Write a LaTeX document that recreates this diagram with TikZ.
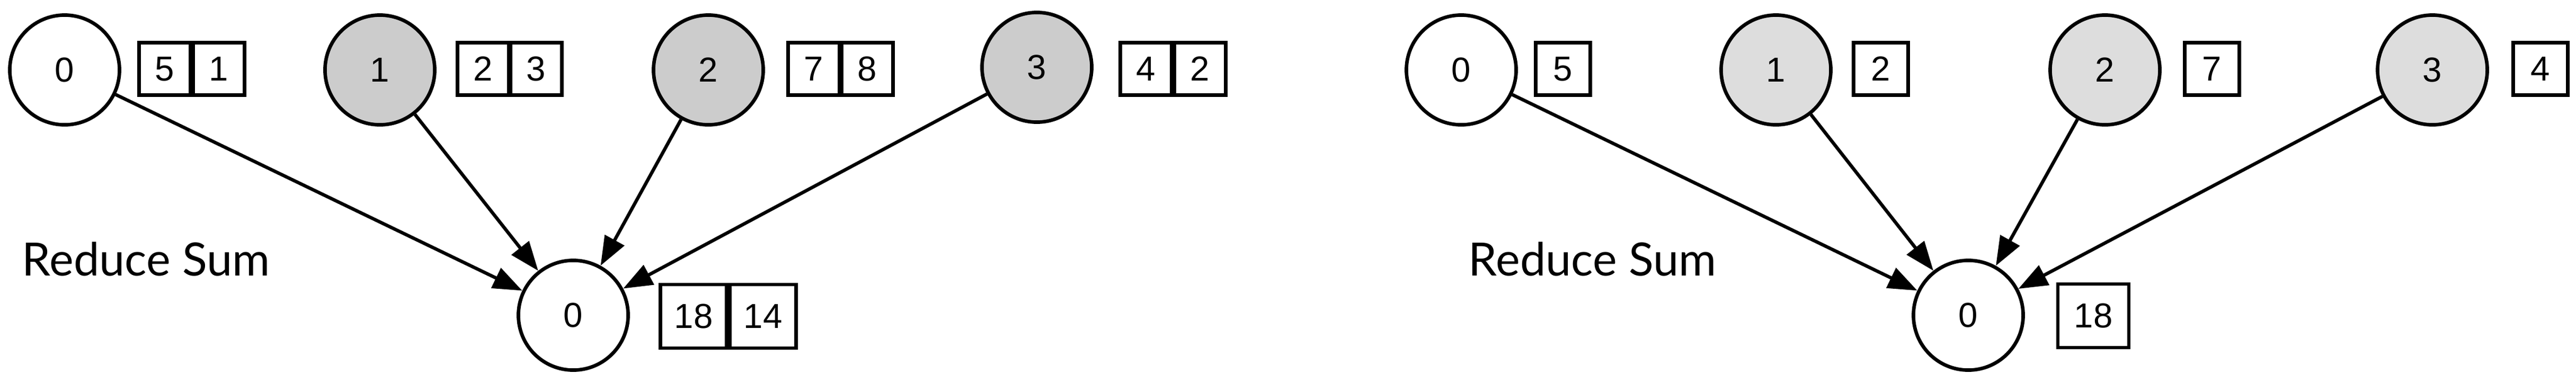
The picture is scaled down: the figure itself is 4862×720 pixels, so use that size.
\documentclass[tikz,border=0pt]{standalone}
\usepackage{fontspec}
\setmainfont{Liberation Sans}
\newfontfamily\handfont{Lato}
\usetikzlibrary{arrows.meta}
\definecolor{rankgray}{RGB}{204,204,204}
\definecolor{rankpale}{RGB}{221,221,221}
\tikzset{
    rank/.style = {
        circle,
        draw,
        line width   = 1.9pt,
        minimum size = 2.07cm,
        inner sep    = 0pt,
        font         = \fontsize{18.6}{20}\selectfont,
    },
    cell/.style = {
        draw,
        line width     = 1.8pt,
        minimum width  = 0.97cm,
        minimum height = 0.99cm,
        inner sep      = 0pt,
        font           = \fontsize{18.6}{20}\selectfont,
    },
    bigcell/.style = {
        cell,
        minimum width  = 1.25cm,
        minimum height = 1.2cm,
    },
    caption/.style = {
        anchor = base west,
        font   = \handfont\fontsize{24.6}{28}\selectfont,
    }
}

\begin{document}
\begin{tikzpicture}[x=0.01cm, y=-0.01cm, line width=1.8pt,
    >={Triangle[length=0.55cm, width=0.41cm]}]
  % one unit is one pixel of the 4862 x 720 page
  \path[use as bounding box] (0,0) rectangle (4862,720);

  % left half: two values per rank
  \node[rank] (a0) at (122,132) {0};
  \node[cell] (a0x) at (311,130) {5};
  \node[cell] (a0y) at (413,130) {1};
  \node[rank, fill=rankgray] (a1) at (717,132) {1};
  \node[cell] (a1x) at (912,130) {2};
  \node[cell] (a1y) at (1012,130) {3};
  \node[rank, fill=rankgray] (a2) at (1337,132) {2};
  \node[cell] (a2x) at (1536,130) {7};
  \node[cell] (a2y) at (1637,130) {8};
  \node[rank, fill=rankgray] (a3) at (1957,127) {3};
  \node[cell] (a3x) at (2163,130) {4};
  \node[cell] (a3y) at (2265,130) {2};

  \node[rank] (aroot) at (1082,595) {0};
  \node[bigcell] (arootx) at (1309,597) {18};
  \node[bigcell] (arooty) at (1440,597) {14};
  \node[caption] (atext) at (27,520) {Reduce Sum};

  \draw[->] (a0) -- (aroot);
  \draw[->] (a1) -- (aroot);
  \draw[->] (a2) -- (aroot);
  \draw[->] (a3) -- (aroot);

  % right half: one value per rank
  \node[rank] (b0) at (2758,132) {0};
  \node[cell, minimum width=1.03cm] (b0x) at (2950,130) {5};
  \node[rank, fill=rankpale] (b1) at (3352,132) {1};
  \node[cell, minimum width=1.03cm] (b1x) at (3550,130) {2};
  \node[rank, fill=rankpale] (b2) at (3973,132) {2};
  \node[cell, minimum width=1.03cm] (b2x) at (4175,130) {7};
  \node[rank, fill=rankpale] (b3) at (4591,132) {3};
  \node[cell, minimum width=1.03cm] (b3x) at (4795,130) {4};

  \node[rank] (broot) at (3715,595) {0};
  \node[bigcell, minimum width=1.34cm] (brootx) at (3951,596) {18};
  \node[caption] (btext) at (2757,520) {Reduce Sum};

  \draw[->] (b0) -- (broot);
  \draw[->] (b1) -- (broot);
  \draw[->] (b2) -- (broot);
  \draw[->] (b3) -- (broot);
\end{tikzpicture}
\end{document}
